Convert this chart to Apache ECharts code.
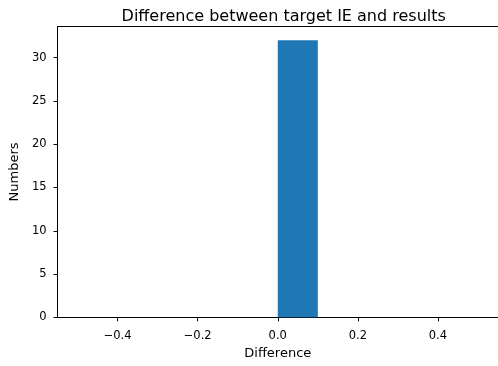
<!DOCTYPE html>
<html>
<head>
<meta charset="utf-8">
<script src="https://cdn.jsdelivr.net/npm/echarts@6/dist/echarts.min.js"></script>
<style>html,body{margin:0;padding:0;background:#fff;}#c{width:498px;height:366px;}</style>
</head>
<body>
<div id="c"></div>
<script>
// histogram bins (edges) and counts
var binStarts = [-0.5, -0.4, -0.3, -0.2, -0.1, 0.0, 0.1, 0.2, 0.3, 0.4];
var binEnds   = [-0.4, -0.3, -0.2, -0.1, 0.0, 0.1, 0.2, 0.3, 0.4, 0.5];
var counts    = [0, 0, 0, 0, 0, 32, 0, 0, 0, 0];
var xTicks = [-0.4, -0.2, 0.0, 0.2, 0.4];
var yTicks = [0, 5, 10, 15, 20, 25, 30];

var data = binStarts.map(function(s, i){ return [s, binEnds[i], counts[i]]; });
var font = 'DejaVu Sans';
var chart = echarts.init(document.getElementById('c'), null, {renderer:'canvas'});
function lineStyle(){ return {color: '#000', width: 1}; }
chart.setOption({
  animation: false,
  title: {
    text: 'Difference between target IE and results',
    left: 278.7, top: 4, textAlign: 'center',
    textStyle: {fontFamily: font, fontSize: 16, fontWeight: 'normal', color: '#000'}
  },
  grid: {left: 55.5, top: 26.5, width: 446.6, height: 290.8, containLabel: false},
  xAxis: [{
    type: 'value', min: -0.55, max: 0.55, position: 'bottom',
    name: 'Difference', nameLocation: 'middle', nameGap: 28,
    nameTextStyle: {fontFamily: font, fontSize: 13, color: '#000'},
    axisLine: {show: true, onZero: false, lineStyle: lineStyle()},
    axisTick: {show: true, inside: false, length: 4, customValues: xTicks, lineStyle: lineStyle()},
    splitLine: {show: false},
    axisLabel: {show: true, customValues: xTicks, margin: 13, fontFamily: font, fontSize: 11.5, color: '#000',
      formatter: function(v){ return v.toFixed(1).replace('-', '\u2212'); }}
  }, {
    type: 'value', min: -0.55, max: 0.55, position: 'top',
    axisLine: {show: true, onZero: false, lineStyle: lineStyle()},
    axisTick: {show: false}, axisLabel: {show: false}, splitLine: {show: false}
  }],
  yAxis: [{
    type: 'value', min: 0, max: 33.6, position: 'left',
    name: 'Numbers', nameLocation: 'middle', nameGap: 35,
    nameTextStyle: {fontFamily: font, fontSize: 13, color: '#000'},
    axisLine: {show: true, onZero: false, lineStyle: lineStyle()},
    axisTick: {show: true, inside: false, length: 4, customValues: yTicks, lineStyle: lineStyle()},
    splitLine: {show: false},
    axisLabel: {show: true, customValues: yTicks, margin: 11, fontFamily: font, fontSize: 11.5, color: '#000'}
  }],
  series: [{
    type: 'custom',
    xAxisIndex: 0, yAxisIndex: 0,
    data: data,
    encode: {x: [0, 1], y: 2},
    renderItem: function(params, api){
      if (api.value(2) <= 0) return null;
      var p0 = api.coord([api.value(0), api.value(2)]);
      var p1 = api.coord([api.value(1), 0]);
      return {
        type: 'rect',
        shape: {x: p0[0], y: p0[1], width: p1[0] - p0[0], height: p1[1] - p0[1]},
        style: {fill: '#1f77b4'}
      };
    }
  }]
});
</script>
</body>
</html>
